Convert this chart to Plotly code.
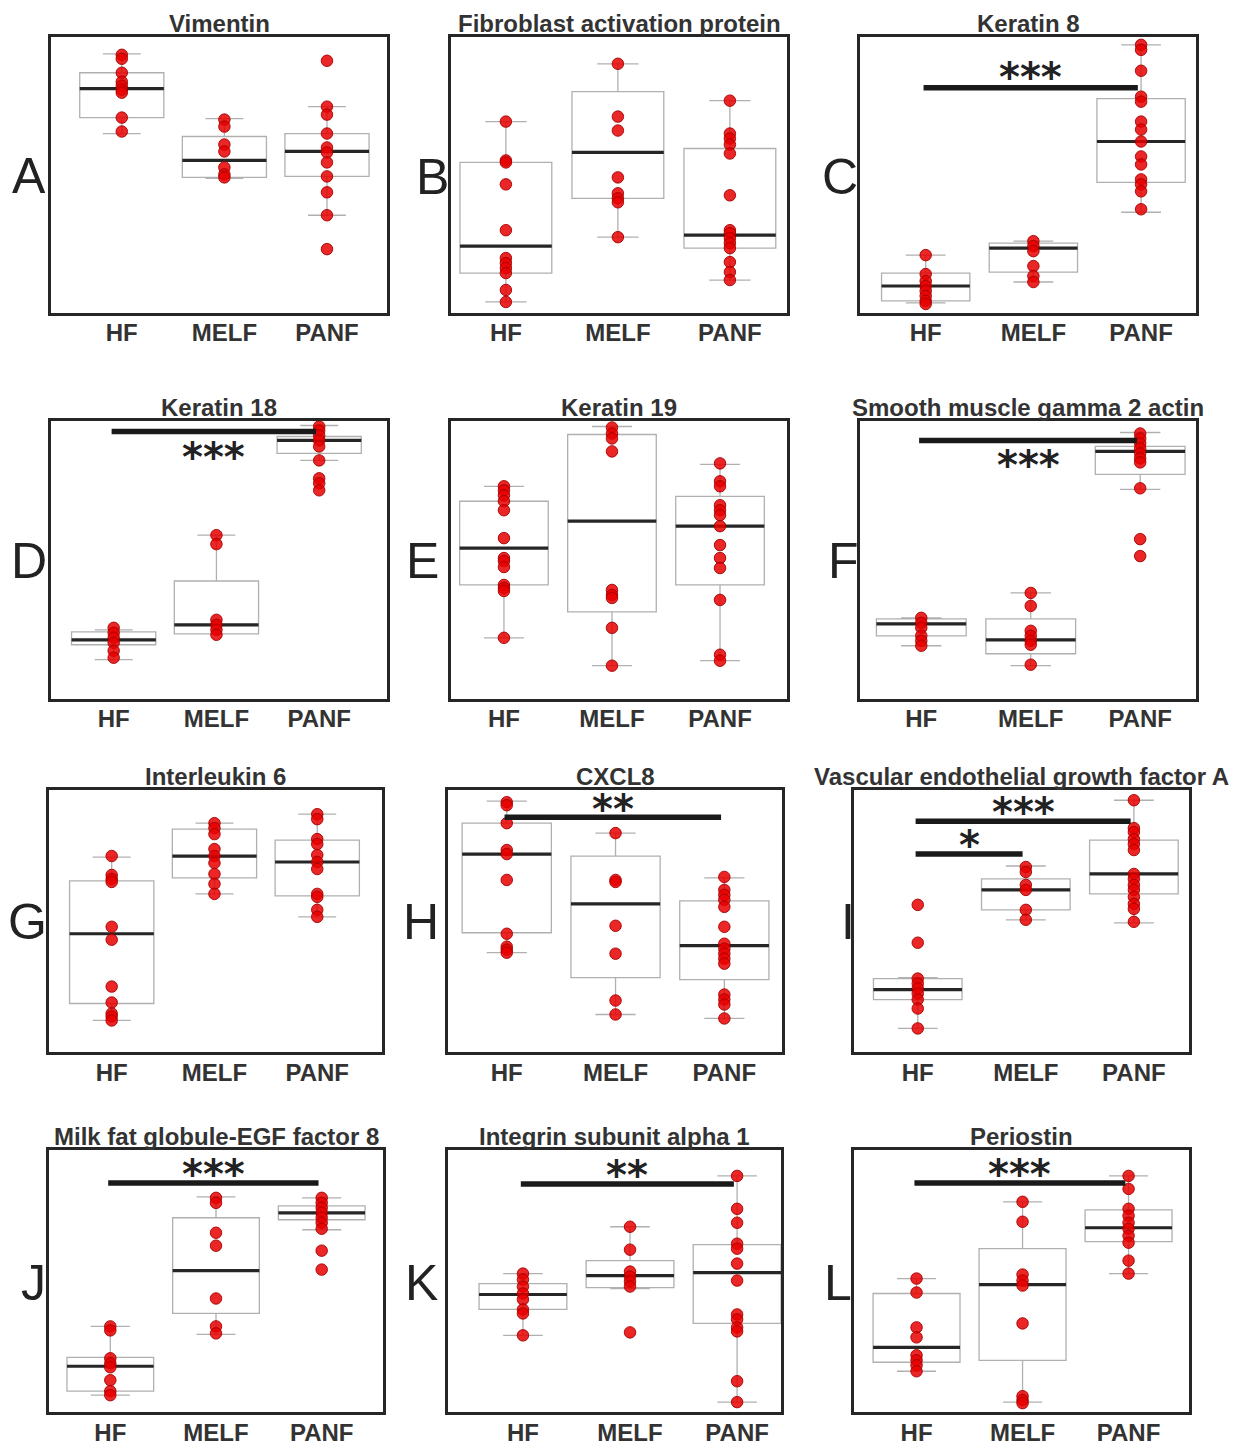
import plotly.graph_objects as go

CATS = ["HF", "MELF", "PANF"]

# ---- Data (relative expression, arbitrary units) ----
A_HF = [259, 255, 241, 232, 228, 224, 221, 196, 182]
A_MELF = [194, 187, 169, 162, 146, 139, 136]
A_PANF = [253, 207, 199, 180, 166, 161, 151, 137, 121, 98, 64]
A_Q1 = [196, 136, 137]; A_MED = [225, 153, 162]; A_Q3 = [241, 177, 180]
A_LO = [180, 135, 98]; A_HI = [260, 195, 207]

B_HF = [192, 153, 151, 129, 83, 55, 50, 45, 40, 23, 11]
B_MELF = [250, 197, 183, 136, 120, 115, 111, 76]
B_PANF = [213, 180, 175, 169, 160, 118, 83, 80, 75, 70, 65, 51, 41, 33]
B_Q1 = [40, 115, 65]; B_MED = [67, 161, 78]; B_Q3 = [151, 222, 165]
B_LO = [11, 76, 33]; B_HI = [192, 250, 213]

C_HF = [58, 39, 32, 27, 22, 17, 12, 9]
C_MELF = [72, 67, 62, 47, 37, 31]
C_PANF = [269, 264, 243, 217, 212, 192, 184, 172, 157, 149, 134, 129, 122, 104]
C_Q1 = [12, 41, 131]; C_MED = [27, 65, 172]; C_Q3 = [40, 70, 215]
C_LO = [10, 31, 101]; C_HI = [58, 72, 269]

D_HF = [71, 66, 61, 56, 48, 41]
D_MELF = [164, 155, 79, 74, 69, 64]
D_PANF = [273, 269, 264, 259, 253, 239, 221, 216, 209]
D_Q1 = [54, 65, 246]; D_MED = [59, 74, 259]; D_Q3 = [67, 118, 263]
D_LO = [39, 65, 239]; D_HI = [69, 164, 274]

E_HF = [213, 209, 204, 198, 189, 161, 141, 138, 132, 114, 111, 108, 61]
E_MELF = [272, 266, 261, 248, 109, 104, 101, 71, 33]
E_PANF = [236, 218, 213, 194, 189, 184, 173, 154, 141, 131, 99, 44, 38]
E_Q1 = [114, 87, 114]; E_MED = [151, 178, 173]; E_Q3 = [198, 265, 203]
E_LO = [61, 33, 38]; E_HI = [213, 273, 235]

F_HF = [81, 76, 71, 63, 58, 53]
F_MELF = [106, 93, 68, 63, 58, 54, 34]
F_PANF = [266, 261, 256, 251, 246, 241, 237, 211, 160, 143]
F_Q1 = [63, 45, 225]; F_MED = [75, 59, 248]; F_Q3 = [80, 80, 253]
F_LO = [53, 33, 210]; F_HI = [81, 106, 267]

G_HF = [197, 178, 174, 171, 126, 113, 66, 50, 39, 36, 32]
G_MELF = [230, 225, 219, 204, 197, 190, 179, 169, 159]
G_PANF = [239, 234, 214, 209, 198, 191, 184, 159, 156, 143, 136]
G_Q1 = [49, 175, 157]; G_MED = [119, 197, 191]; G_Q3 = [172, 224, 213]
G_LO = [32, 159, 136]; G_HI = [196, 230, 239]

H_HF = [251, 248, 230, 203, 199, 173, 119, 106, 103, 100]
H_MELF = [220, 173, 171, 127, 99, 52, 38]
H_PANF = [176, 163, 158, 153, 146, 126, 109, 104, 99, 94, 89, 58, 53, 48, 34]
H_Q1 = [120, 75, 73]; H_MED = [199, 149, 107]; H_Q3 = [230, 197, 152]
H_LO = [100, 38, 34]; H_HI = [252, 220, 175]

I_HF = [148, 110, 74, 69, 64, 59, 53, 44, 24]
I_MELF = [186, 181, 168, 163, 143, 133]
I_PANF = [253, 225, 221, 214, 209, 203, 179, 174, 168, 163, 156, 149, 144, 131]
I_Q1 = [53, 143, 159]; I_MED = [63, 163, 179]; I_Q3 = [74, 174, 213]
I_LO = [24, 133, 130]; I_HI = [75, 187, 253]

J_HF = [86, 82, 54, 49, 45, 32, 21, 17]
J_MELF = [215, 210, 180, 167, 114, 86, 79]
J_PANF = [215, 210, 205, 200, 195, 190, 184, 162, 143]
J_Q1 = [21, 99, 193]; J_MED = [46, 142, 200]; J_Q3 = [55, 195, 207]
J_LO = [17, 78, 183]; J_HI = [86, 216, 215]

K_HF = [139, 133, 126, 119, 113, 103, 99, 77]
K_MELF = [186, 163, 141, 136, 131, 126, 80]
K_PANF = [237, 204, 190, 169, 164, 149, 132, 98, 93, 85, 81, 31, 10]
K_Q1 = [103, 125, 89]; K_MED = [118, 137, 140]; K_Q3 = [129, 152, 168]
K_LO = [77, 124, 10]; K_HI = [139, 186, 237]

L_HF = [134, 120, 85, 75, 57, 52, 47, 41]
L_MELF = [211, 191, 138, 132, 127, 89, 16, 12, 9]
L_PANF = [237, 224, 204, 197, 190, 184, 177, 170, 152, 139]
L_Q1 = [50, 52, 171]; L_MED = [65, 128, 185]; L_Q3 = [119, 164, 203]
L_LO = [41, 10, 139]; L_HI = [134, 211, 237]

TITLES = ["Vimentin", "Fibroblast activation protein", "Keratin 8",
          "Keratin 18", "Keratin 19", "Smooth muscle gamma 2 actin",
          "Interleukin 6", "CXCL8", "Vascular endothelial growth factor A",
          "Milk fat globule-EGF factor 8", "Integrin subunit alpha 1", "Periostin"]
LETTERS = ["A", "B", "C", "D", "E", "F", "G", "H", "I", "J", "K", "L"]

GROUPS = [
    (A_HF, A_MELF, A_PANF, A_Q1, A_MED, A_Q3, A_LO, A_HI),
    (B_HF, B_MELF, B_PANF, B_Q1, B_MED, B_Q3, B_LO, B_HI),
    (C_HF, C_MELF, C_PANF, C_Q1, C_MED, C_Q3, C_LO, C_HI),
    (D_HF, D_MELF, D_PANF, D_Q1, D_MED, D_Q3, D_LO, D_HI),
    (E_HF, E_MELF, E_PANF, E_Q1, E_MED, E_Q3, E_LO, E_HI),
    (F_HF, F_MELF, F_PANF, F_Q1, F_MED, F_Q3, F_LO, F_HI),
    (G_HF, G_MELF, G_PANF, G_Q1, G_MED, G_Q3, G_LO, G_HI),
    (H_HF, H_MELF, H_PANF, H_Q1, H_MED, H_Q3, H_LO, H_HI),
    (I_HF, I_MELF, I_PANF, I_Q1, I_MED, I_Q3, I_LO, I_HI),
    (J_HF, J_MELF, J_PANF, J_Q1, J_MED, J_Q3, J_LO, J_HI),
    (K_HF, K_MELF, K_PANF, K_Q1, K_MED, K_Q3, K_LO, K_HI),
    (L_HF, L_MELF, L_PANF, L_Q1, L_MED, L_Q3, L_LO, L_HI),
]

# significance brackets: panel index, from group, to group, level, label
SIGS = [
    (2, 0, 2, 226, "***"),
    (3, 0, 2, 268, "***"),
    (5, 0, 2, 259, "***"),
    (7, 0, 2, 236, "**"),
    (8, 0, 2, 232, "***"),
    (8, 0, 1, 199, "*"),
    (9, 0, 2, 230, "***"),
    (10, 0, 2, 229, "**"),
    (11, 0, 2, 230, "***"),
]

# ---- Layout (pixels) ----
W, HGT = 1256, 1446
FRAMES = [  # left, right, top, bottom
    (51, 387, 37, 314), (451, 787, 37, 314), (860, 1196, 37, 314),
    (51, 387, 422, 701), (451, 787, 422, 701), (860, 1196, 422, 701),
    (49, 382, 793, 1056), (448, 782, 793, 1056), (854, 1189, 793, 1056),
    (49, 383, 1154, 1417), (448, 781, 1154, 1417), (854, 1189, 1154, 1417),
]
XR = [(-0.69, 2.585), (-0.49, 2.51), (-0.61, 2.51),
      (-0.61, 2.66), (-0.49, 2.62), (-0.56, 2.51),
      (-0.61, 2.63), (-0.54, 2.53), (-0.59, 2.51),
      (-0.58, 2.58), (-0.70, 2.41), (-0.59, 2.57)]
LETTER_POS = [(29, 177), (432, 178), (840, 178),
              (29, 563), (422, 563), (843, 563),
              (27, 925), (421, 925), (848, 925),
              (33, 1287), (421, 1287), (838, 1287)]
STAR_OFF = {2: 16, 3: -20, 5: -20, 7: 13, 8: 14, 9: 14, 10: 14, 11: 14}

fig = go.Figure()
annotations = []
shapes = []
FRAME_COLOR = "#262626"
TEXT_COLOR = "#333333"

for i, (grp, frame) in enumerate(zip(GROUPS, FRAMES)):
    hf, melf, panf, q1, med, q3, lo, hi = grp
    n = i + 1
    xa, ya = ("x%d" % n if n > 1 else "x"), ("y%d" % n if n > 1 else "y")
    left, right, top, bottom = frame
    ymax = bottom - top

    fig.add_trace(go.Box(
        x=CATS, q1=q1, median=med, q3=q3, lowerfence=lo, upperfence=hi,
        width=0.82, whiskerwidth=0.45, fillcolor="rgba(255,255,255,0)",
        line=dict(color="#b0b0b0", width=1.3), hoverinfo="skip",
        showlegend=False, xaxis=xa, yaxis=ya))
    fig.add_trace(go.Box(
        x=CATS, q1=med, median=med, q3=med, lowerfence=med, upperfence=med,
        width=0.82, whiskerwidth=0, fillcolor="rgba(0,0,0,0)",
        line=dict(color="#262626", width=3.2), hoverinfo="skip",
        showlegend=False, xaxis=xa, yaxis=ya))
    for cat, vals in zip(CATS, (hf, melf, panf)):
        fig.add_trace(go.Scatter(
            x=[cat] * len(vals), y=vals, mode="markers",
            marker=dict(size=11.5, color="rgba(232,0,0,0.85)",
                        line=dict(color="rgba(165,0,0,0.9)", width=1)),
            hoverinfo="skip", showlegend=False, xaxis=xa, yaxis=ya))

    axis_common = dict(showline=True, mirror=True, linecolor=FRAME_COLOR,
                       linewidth=2.5, showgrid=False, zeroline=False, ticks="")
    fig.layout["xaxis%d" % n if n > 1 else "xaxis"] = dict(
        type="category", categoryorder="array", categoryarray=CATS,
        range=list(XR[i]), domain=[left / W, right / W], anchor=ya,
        tickfont=dict(family="Liberation Sans", size=24, color=TEXT_COLOR,
                      weight="bold"),
        ticklabelstandoff=-3, **axis_common)
    fig.layout["yaxis%d" % n if n > 1 else "yaxis"] = dict(
        range=[0, ymax], domain=[1 - bottom / HGT, 1 - top / HGT], anchor=xa,
        showticklabels=False, **axis_common)

    annotations.append(dict(
        text=TITLES[i], x=(left + right) / 2 / W, y=1 - top / HGT,
        xref="paper", yref="paper", xanchor="center", yanchor="bottom",
        yshift=-2, showarrow=False,
        font=dict(family="Liberation Sans", size=24, color=TEXT_COLOR,
                  weight="bold")))
    lx, ly = LETTER_POS[i]
    annotations.append(dict(
        text=LETTERS[i], x=lx / W, y=1 - ly / HGT, xref="paper", yref="paper",
        xanchor="center", yanchor="middle", showarrow=False,
        font=dict(family="Liberation Sans", size=50, color="#222222")))

for (pi, g0, g1, level, label) in SIGS:
    n = pi + 1
    xa, ya = ("x%d" % n if n > 1 else "x"), ("y%d" % n if n > 1 else "y")
    x0, x1 = g0 - 0.02, g1 - 0.03
    shapes.append(dict(type="line", xref=xa, yref=ya, x0=x0, x1=x1,
                       y0=level, y1=level,
                       line=dict(color="#1a1a1a", width=5.5)))
    annotations.append(dict(
        text=label, x=(x0 + x1) / 2, y=level, xref=xa, yref=ya,
        xanchor="center", yanchor="middle", showarrow=False,
        yshift=STAR_OFF[pi] - 5,
        font=dict(family="DejaVu Sans", size=40, color="#222222",
                  weight="bold")))

fig.update_layout(
    width=W, height=HGT, margin=dict(l=0, r=0, t=0, b=0),
    paper_bgcolor="white", plot_bgcolor="white", showlegend=False,
    boxmode="overlay", annotations=annotations, shapes=shapes)

fig.write_html("out.html")
